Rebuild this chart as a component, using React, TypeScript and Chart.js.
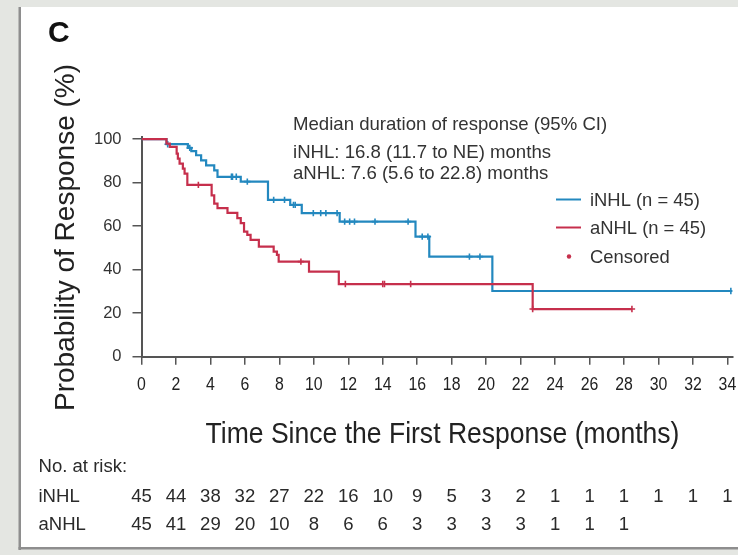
import React, { useEffect, useRef } from "react";
import { Chart, registerables } from "chart.js";

Chart.register(...registerables);

// ---- data ----
const tickMonths = [0, 2, 4, 6, 8, 10, 12, 14, 16, 18, 20, 22, 24, 26, 28, 30, 32, 34];
const yTickValues = [0, 20, 40, 60, 80, 100];

const iNHLTimes = [0, 1.45, 2.69, 2.89, 3.17, 3.46, 3.75, 4.22, 4.41, 5.76, 7.34, 8.63, 9.3, 11.5, 15.9, 16.7, 20.36, 34.29];
const iNHLSurv = [100, 97.7, 96, 94.5, 92.6, 90.3, 88, 85.7, 82.7, 80.5, 72.1, 69.8, 66, 62.1, 55.2, 46, 30.2, 30.2];

const aNHLTimes = [0, 1.45, 1.64, 2.04, 2.11, 2.21, 2.4, 2.5, 2.66, 4.07, 4.22, 4.41, 4.99, 5.56, 5.76, 5.95, 6.14, 6.33, 6.81, 7.67, 7.86, 7.96, 9.72, 11.45, 22.7, 28.46];
const aNHLSurv = [100, 98, 96.5, 93.4, 91.1, 88.8, 86.5, 84.2, 79, 74.2, 70.4, 68.3, 66.1, 63.7, 61.4, 57.5, 56, 53.7, 50.6, 48.3, 46.8, 43.7, 39.1, 33.4, 21.9, 21.9];

const iNHLCensorTimes = [1.52, 2.8, 5.22, 5.28, 5.5, 6.14, 7.67, 8.3, 8.82, 8.92, 9.97, 10.4, 10.7, 11.35, 11.79, 12.08, 12.36, 13.55, 15.47, 16.29, 16.62, 19.03, 19.64, 34.2];
const aNHLCensorTimes = [3.3, 9.25, 11.83, 14.0, 14.1, 15.62, 22.7, 28.46];

const iNHLAtRisk = [45, 44, 38, 32, 27, 22, 16, 10, 9, 5, 3, 2, 1, 1, 1, 1, 1, 1];
const aNHLAtRisk = [45, 41, 29, 20, 10, 8, 6, 6, 3, 3, 3, 3, 1, 1, 1];

const panelLetter = "C";
const yTitle = "Probability of Response (%)";
const xTitle = "Time Since the First Response (months)";
const medianLines = [
  "Median duration of response (95% CI)",
  "iNHL: 16.8 (11.7 to NE) months",
  "aNHL: 7.6 (5.6 to 22.8) months",
];
const legendLabels = ["iNHL (n = 45)", "aNHL (n = 45)", "Censored"];
const atRiskTitle = "No. at risk:";
const atRiskRowLabels = ["iNHL", "aNHL"];

// ---- styles ----
const BLUE = "#2388bf";
const RED = "#c62f4c";
const AXIS = "#555555";
const TEXT = "#333333";
const FONT = "'Liberation Sans', Arial, sans-serif";

function survAt(times: number[], surv: number[], t: number) {
  let v = surv[0];
  for (let i = 0; i < times.length; i++) if (times[i] <= t) v = surv[i];
  return v;
}

function condensedText(
  ctx: CanvasRenderingContext2D,
  text: string,
  x: number,
  y: number,
  sx: number,
  align: CanvasTextAlign
) {
  ctx.save();
  ctx.translate(x, y);
  ctx.scale(sx, 1);
  ctx.textAlign = align;
  ctx.fillText(text, 0, 0);
  ctx.restore();
}

const decorPlugin = {
  id: "decor",
  beforeDraw(chart: any) {
    const ctx = chart.ctx as CanvasRenderingContext2D;
    const W = chart.width;
    const H = chart.height;
    ctx.save();
    ctx.fillStyle = "#e4e6e2";
    ctx.fillRect(0, 0, W, H);
    ctx.fillStyle = "#ffffff";
    ctx.fillRect(21, 7, W - 21, 540);
    ctx.fillStyle = "#8e8e8e";
    ctx.fillRect(18.5, 7, 2.5, 543);
    ctx.fillRect(18.5, 547, W - 18.5, 2.5);
    ctx.restore();
  },
  afterDraw(chart: any) {
    const ctx = chart.ctx as CanvasRenderingContext2D;
    const xs = chart.scales.x;
    ctx.save();
    ctx.textBaseline = "alphabetic";

    // panel letter
    ctx.fillStyle = "#111111";
    ctx.font = `bold 30px ${FONT}`;
    ctx.textAlign = "left";
    ctx.fillText(panelLetter, 48, 42);

    // y title
    ctx.fillStyle = "#222222";
    ctx.font = `28px ${FONT}`;
    ctx.save();
    ctx.translate(74, 237.5);
    ctx.rotate(-Math.PI / 2);
    ctx.textAlign = "center";
    ctx.fillText(yTitle, 0, 0);
    ctx.restore();

    // x title
    ctx.font = `29px ${FONT}`;
    condensedText(ctx, xTitle, 442.5, 443, 0.915, "center");

    // x tick labels
    ctx.fillStyle = "#222222";
    ctx.font = `18px ${FONT}`;
    tickMonths.forEach((m) => {
      condensedText(ctx, String(m), xs.getPixelForValue(m), 390, 0.88, "center");
    });

    // median text
    ctx.fillStyle = TEXT;
    ctx.font = `18.6px ${FONT}`;
    ctx.textAlign = "left";
    ctx.fillText(medianLines[0], 293, 129.5);
    ctx.fillText(medianLines[1], 293, 158);
    ctx.fillText(medianLines[2], 293, 179);

    // legend
    ctx.font = `18.4px ${FONT}`;
    const ly = [199.5, 227.5, 256.5];
    ctx.lineWidth = 2;
    ctx.strokeStyle = BLUE;
    ctx.beginPath();
    ctx.moveTo(556, ly[0]);
    ctx.lineTo(581, ly[0]);
    ctx.stroke();
    ctx.strokeStyle = RED;
    ctx.beginPath();
    ctx.moveTo(556, ly[1]);
    ctx.lineTo(581, ly[1]);
    ctx.stroke();
    ctx.fillStyle = RED;
    ctx.beginPath();
    ctx.arc(569, ly[2], 2.2, 0, Math.PI * 2);
    ctx.fill();
    ctx.fillStyle = TEXT;
    ctx.textBaseline = "middle";
    legendLabels.forEach((l, i) => ctx.fillText(l, 590, ly[i] + 1));
    ctx.textBaseline = "alphabetic";

    // at-risk table
    ctx.fillStyle = "#2a2a2a";
    ctx.font = `17.5px ${FONT}`;
    const sx = 1.06;
    condensedText(ctx, atRiskTitle, 38.5, 472, sx, "left");
    condensedText(ctx, atRiskRowLabels[0], 38.5, 502, sx, "left");
    condensedText(ctx, atRiskRowLabels[1], 38.5, 530, sx, "left");
    iNHLAtRisk.forEach((n, i) => {
      condensedText(ctx, String(n), xs.getPixelForValue(tickMonths[i]), 502, sx, "center");
    });
    aNHLAtRisk.forEach((n, i) => {
      condensedText(ctx, String(n), xs.getPixelForValue(tickMonths[i]), 530, sx, "center");
    });
    ctx.restore();
  },
};

export default function App() {
  const ref = useRef<HTMLCanvasElement | null>(null);
  useEffect(() => {
    if (!ref.current) return;
    const lineData = (t: number[], s: number[]) => t.map((x, i) => ({ x, y: s[i] }));
    const censorData = (ct: number[], t: number[], s: number[]) =>
      ct.map((x) => ({ x, y: survAt(t, s, x) }));
    const chart = new Chart(ref.current, {
      type: "line",
      data: {
        datasets: [
          {
            label: "aNHL censored",
            data: censorData(aNHLCensorTimes, aNHLTimes, aNHLSurv),
            showLine: false,
            pointStyle: "cross",
            pointRadius: 3.2,
            pointBorderWidth: 1.6,
            pointBorderColor: RED,
            pointBackgroundColor: RED,
            borderColor: RED,
          },
          {
            label: "aNHL",
            data: lineData(aNHLTimes, aNHLSurv),
            stepped: true,
            borderColor: RED,
            borderWidth: 2.2,
            pointRadius: 0,
            fill: false,
          },
          {
            label: "iNHL censored",
            data: censorData(iNHLCensorTimes, iNHLTimes, iNHLSurv),
            showLine: false,
            pointStyle: "cross",
            pointRadius: 3.2,
            pointBorderWidth: 1.6,
            pointBorderColor: BLUE,
            pointBackgroundColor: BLUE,
            borderColor: BLUE,
          },
          {
            label: "iNHL",
            data: lineData(iNHLTimes, iNHLSurv),
            stepped: true,
            borderColor: BLUE,
            borderWidth: 2.2,
            pointRadius: 0,
            fill: false,
          },
        ],
      },
      options: {
        animation: false,
        responsive: false,
        devicePixelRatio: 1,
        layout: { padding: { top: 137, left: 0, right: 0, bottom: 188.3 } },
        plugins: {
          legend: { display: false },
          tooltip: { enabled: false },
          title: { display: false },
        },
        scales: {
          x: {
            type: "linear",
            min: 0,
            max: 34.29,
            ticks: { stepSize: 2, display: false, includeBounds: false },
            grid: { drawOnChartArea: false, drawTicks: true, tickLength: 8, color: AXIS, lineWidth: 1.5 },
            border: { display: true, color: AXIS, width: 2 },
            afterFit: (s: any) => {
              s.height = 10;
            },
          },
          y: {
            type: "linear",
            min: 0,
            max: 101,
            ticks: {
              stepSize: 20,
              includeBounds: false,
              color: TEXT,
              padding: 11,
              font: { family: FONT, size: 16.5 },
              callback: (v: any) => (yTickValues.includes(v) ? String(v) : ""),
            },
            grid: { drawOnChartArea: false, drawTicks: true, tickLength: 9, color: AXIS, lineWidth: 1.5 },
            border: { display: true, color: AXIS, width: 2 },
            afterFit: (s: any) => {
              s.width = 141.5;
            },
          },
        },
      } as any,
      plugins: [decorPlugin],
    });
    return () => chart.destroy();
  }, []);
  return (
    <canvas
      ref={ref}
      width={738}
      height={555}
      style={{ position: "fixed", left: 0, top: 0, width: 738, height: 555, display: "block" }}
    />
  );
}
